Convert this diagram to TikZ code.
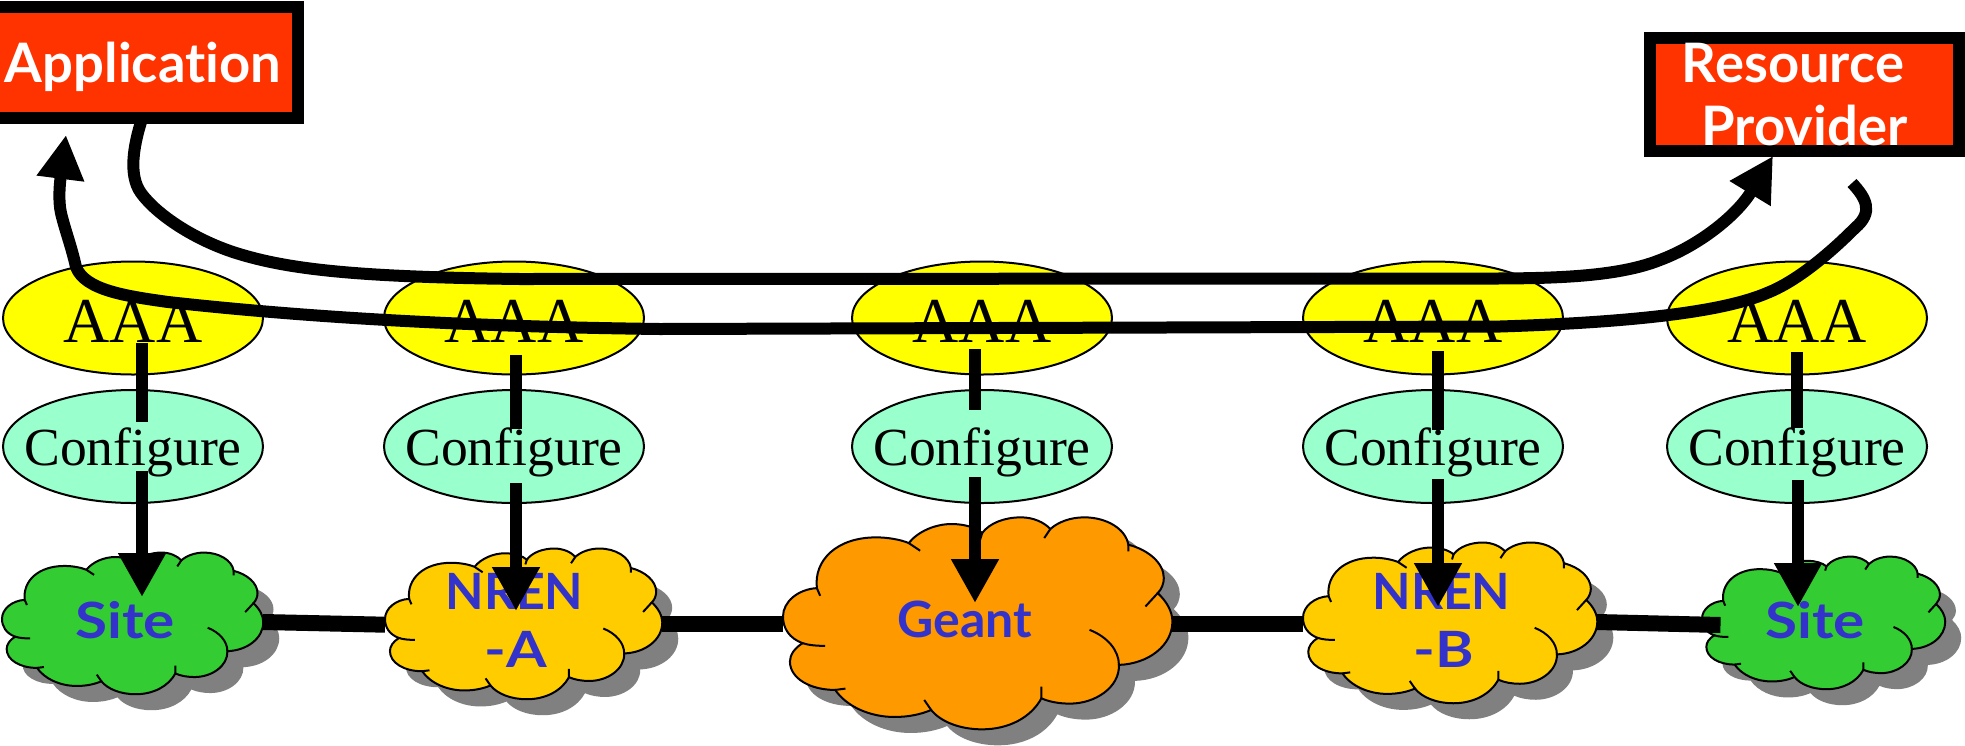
\documentclass[tikz,border=0pt]{standalone}
\usepackage{fontspec}
\setmainfont{Liberation Serif}
\newfontfamily\lblfont{Lato}[UprightFont=* Bold,Ligatures=NoCommon]
\newfontfamily\lblwide{Lato}[UprightFont=* Bold,Ligatures=NoCommon,FakeStretch=1.17]
\usetikzlibrary{shapes.geometric,arrows.meta}
\definecolor{boxred}{HTML}{FF3300}
\definecolor{aaay}{HTML}{FFFF00}
\definecolor{cfgm}{HTML}{99FFCC}
\definecolor{sitegreen}{HTML}{33CC33}
\definecolor{nrenc}{HTML}{FFCC00}
\definecolor{geantc}{HTML}{FF9900}
\definecolor{lblblue}{HTML}{3333CC}
\definecolor{shadowc}{HTML}{808080}
\newcommand{\lbl}[3]{\kern#1\makebox[0pt]{\raisebox{#2}[0pt][0pt]{#3}}\kern-#1}
\newcommand{\cloudoutline}{(105,460) .. controls (72,445) and (57,415) .. (57,380) .. controls (57,335) and (95,298) .. (140,295)
 .. controls (132,210) and (190,143) .. (285,143) .. controls (315,143) and (345,150) .. (365,160)
 .. controls (388,125) and (430,103) .. (470,103) .. controls (500,103) and (530,113) .. (545,130)
 .. controls (563,100) and (600,83) .. (640,83) .. controls (670,83) and (697,98) .. (712,118)
 .. controls (730,98) and (760,83) .. (795,83) .. controls (850,83) and (897,118) .. (903,165)
 .. controls (952,180) and (990,220) .. (990,265) .. controls (990,280) and (985,298) .. (975,310)
 .. controls (997,335) and (1011,365) .. (1011,395) .. controls (1011,467) and (952,522) .. (880,525)
 .. controls (882,592) and (822,641) .. (760,641) .. controls (735,641) and (710,636) .. (690,625)
 .. controls (665,682) and (610,718) .. (545,718) .. controls (490,718) and (443,695) .. (420,660)
 .. controls (395,673) and (365,681) .. (330,681) .. controls (270,681) and (213,650) .. (185,600)
 .. controls (123,600) and (74,565) .. (74,515) .. controls (74,495) and (85,475) .. (105,460) -- cycle}
\newcommand{\cloudshape}[6]{%
 \pgfmathsetmacro{\csx}{(#3-#2)/953}%
 \pgfmathsetmacro{\csy}{(#5-#4)/632}%
 \pgfmathsetmacro{\cX}{#2-57*\csx}%
 \pgfmathsetmacro{\cY}{#4-85*\csy}%
 \begin{scope}[shift={(\cX+16,\cY+16)},xscale=\csx,yscale=\csy]
  \fill[shadowc] \cloudoutline;
 \end{scope}
 \begin{scope}[shift={(\cX,\cY)},xscale=\csx,yscale=\csy]
  \draw[cloudline,fill=#6] \cloudoutline;
  \draw[cloudline] (140,295) -- (148,318) (365,160) -- (393,183) (545,130) -- (540,150)
   (712,118) -- (697,145) (903,165) -- (903,185) (975,310) -- (945,350)
   (880,525) .. controls (880,480) and (850,440) .. (808,420)
   (690,625) -- (690,590) (420,660) -- (403,630) (185,600) -- (210,596)
   (105,460) .. controls (120,466) and (140,468) .. (160,468);
 \end{scope}
}
\tikzset{
 ell/.style={ellipse,draw=black,line width=1pt,inner sep=0pt,outer sep=0pt,minimum width=130pt,minimum height=56.5pt,font=\fontsize{32}{32}\selectfont},
 aaanode/.style={ell,fill=aaay},
 cfgnode/.style={ell,fill=cfgm,font=\fontsize{26.8}{26.8}\selectfont},
 cloudline/.style={draw=black,line width=1pt},
 cloudbox/.style={inner sep=0pt,outer sep=0pt,text=lblblue,font=\fontsize{25}{25}\lblfont},
 redbox/.style={rectangle,draw=black,fill=boxred,line width=6pt,inner sep=0pt,outer sep=0pt,text=white,font=\fontsize{27.2}{27.2}\lblfont},
 stub/.style={line width=6pt,black},
 link/.style={line width=8pt,black},
 downarrow/.style={line width=6pt,black,-{Triangle[length=22pt,width=22.5pt]}},
 flow/.style={line width=6pt,black,line join=round,-{Triangle[length=22pt,width=22.5pt]}}
}
\begin{document}
\begin{tikzpicture}[x=0.5pt,y=-0.5pt]
\useasboundingbox (0,0) rectangle (1965,745);
% clouds
\cloudshape{site1}{2}{263}{553}{694}{sitegreen}
\node[cloudbox,minimum width=130.5pt,minimum height=70.5pt] (site1) at (132.5,623.5) {\lbl{-3.75pt}{-7.25pt}{\lblwide Site}};
\cloudshape{nrenA}{385}{662}{549}{699}{nrenc}
\node[cloudbox,minimum width=138.5pt,minimum height=75pt] (nrenA) at (523.5,624) {\lbl{-4.5pt}{7.5pt}{NREN}\lbl{-3.75pt}{-21.5pt}{\lblwide -A}};
\cloudshape{geant}{783}{1172}{518}{729}{geantc}
\node[cloudbox,minimum width=194.5pt,minimum height=105.5pt] (geant) at (977.5,623.5) {\lbl{-6.25pt}{-6.75pt}{Geant}};
\cloudshape{nrenB}{1303}{1597}{543}{703}{nrenc}
\node[cloudbox,minimum width=147pt,minimum height=80pt] (nrenB) at (1450,623) {\lbl{-4.25pt}{6.75pt}{NREN}\lbl{-3.25pt}{-22pt}{\lblwide -B}};
\cloudshape{site2}{1702}{1945}{557}{689}{sitegreen}
\node[cloudbox,minimum width=121.5pt,minimum height=66pt] (site2) at (1823.5,623) {\lbl{-4.25pt}{-7.5pt}{\lblwide Site}};
% ellipses
\foreach \n/\cx in {1/133,2/514,3/982,4/1433,5/1797}{
 \node[aaanode] (a\n) at (\cx,318) {\lbl{0pt}{-12pt}{AAA}};
 \node[cfgnode] (c\n) at (\cx,446.5) {\lbl{0pt}{-9.25pt}{Configure}};
}
% links
\draw[link] ([yshift=.75pt]site1.east) -- ([yshift=-.35pt]nrenA.west);
\draw[link] (nrenA.east) -- (geant.west |- nrenA.east);
\draw[link] (geant.east |- nrenA.east) -- (nrenB.west |- nrenA.east);
\draw[link] ([yshift=.5pt]nrenB.east) -- ([xshift=9.25pt,yshift=-1pt]site2.west);
% vertical connectors
\draw[stub] ([xshift=4.5pt,yshift=-12.5pt]a1.center) -- ([xshift=4.5pt,yshift=12.25pt]c1.center);
\draw[downarrow] ([xshift=4.5pt,yshift=-12.25pt]c1.center) -- ([xshift=4.75pt,yshift=13.25pt]site1.center);
\draw[stub] ([xshift=1pt,yshift=-18.5pt]a2.center) -- ([xshift=1pt,yshift=8.75pt]c2.center);
\draw[downarrow] ([xshift=1pt,yshift=-18.25pt]c2.center) -- ([xshift=-3.75pt,yshift=6.5pt]nrenA.center);
\draw[stub] ([xshift=-3.5pt,yshift=-15.5pt]a3.center) -- ([xshift=-3.5pt,yshift=18.25pt]c3.center);
\draw[downarrow] ([xshift=-3.5pt,yshift=-15.25pt]c3.center) -- ([xshift=-1.25pt,yshift=10.25pt]geant.center);
\draw[stub] ([xshift=2.5pt,yshift=-16.5pt]a4.center) -- ([xshift=2.5pt,yshift=8.25pt]c4.center);
\draw[downarrow] ([xshift=2.5pt,yshift=-16.25pt]c4.center) -- ([xshift=-6pt,yshift=8pt]nrenB.center);
\draw[stub] ([yshift=-17pt]a5.center) -- ([yshift=9.25pt]c5.center);
\draw[downarrow] ([xshift=.5pt,yshift=-16.75pt]c5.center) -- ([xshift=-12.75pt,yshift=8pt]site2.center);
% boxes
\node[redbox,minimum width=152pt,minimum height=55.75pt] (app) at (146,62.25) {\lbl{-1.5pt}{-9.875pt}{Application}};
\node[redbox,minimum width=154.5pt,minimum height=56.25pt] (rp) at (1804,94.25) {\lbl{-5.5pt}{6.125pt}{Resource}\lbl{.25pt}{-25.4pt}{Provider}};
% long curved connectors
\coordinate (appOut) at ([xshift=-2.5pt,yshift=-2pt]app.south);
\coordinate (rpIn) at ([xshift=-15.5pt,yshift=-2.75pt]rp.south);
\coordinate (rpOut) at ([xshift=24pt,yshift=-16.25pt]rp.south);
\coordinate (appIn) at ([xshift=-40pt,yshift=-8.5pt]app.south);
\draw[flow] (appOut) .. controls (134,145) and (128,175) .. (141,193)
  .. controls (157,215) and (195,240) .. (236,253)
  .. controls (290,270) and (360,277) .. (520,279)
  -- (1450,278.5)
  .. controls (1530,278.5) and (1610,280) .. (1660,260)
  .. controls (1700,245) and (1737,215) .. (rpIn);
\draw[flow] (rpOut) .. controls (1866,198) and (1874,212) .. (1855,228)
  .. controls (1835,248) and (1800,280) .. (1767,293)
  .. controls (1725,311) and (1640,322) .. (1500,326.5)
  -- (660,329)
  .. controls (500,327) and (330,320) .. (168,302)
  .. controls (125,296) and (85,290) .. (76,267)
  .. controls (71,245) and (65,230) .. (61,213)
  .. controls (58,200) and (60,182) .. (appIn);
\end{tikzpicture}
\end{document}
